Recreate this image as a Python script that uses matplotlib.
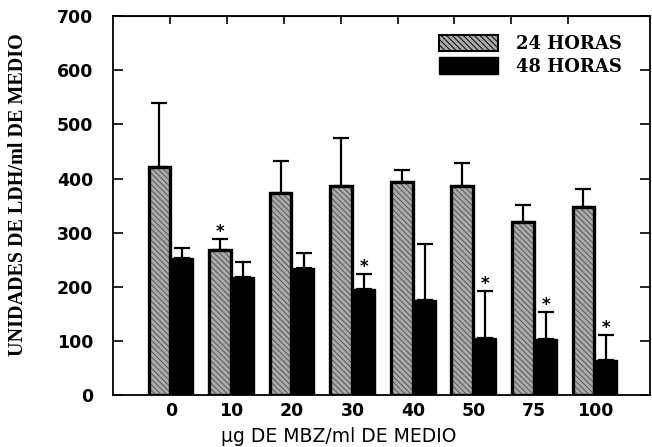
import numpy as np
import matplotlib.pyplot as plt
from matplotlib.patches import Patch

dosis = ['0', '10', '20', '30', '40', '50', '75', '100']
ldh_24 = [422, 268, 374, 387, 394, 387, 320, 348]
err_24 = [117, 21, 59, 87, 21, 41, 32, 33]
ldh_48 = [254, 219, 235, 196, 176, 106, 104, 65]
err_48 = [18, 27, 28, 28, 104, 87, 50, 46]
sig_24 = [False, True, False, False, False, False, False, False]
sig_48 = [False, False, False, True, False, True, True, True]

plt.rcParams['hatch.linewidth'] = 0.7

x = np.arange(len(dosis))
w = 0.36
off = 0.19

fig = plt.figure(figsize=(6.52, 4.47), dpi=100)
ax = fig.add_axes([0.173, 0.116, 0.824, 0.848])

# barras de 24 h: gris con trama fina y borde grueso
ax.bar(x - off, ldh_24, w, color='#ababab', hatch='\\\\\\\\\\\\', edgecolor='#555555', linewidth=0, zorder=2)
ax.bar(x - off, ldh_24, w, fill=False, edgecolor='black', linewidth=2.4, zorder=3)
ax.bar(x + off, ldh_48, w, color='black', edgecolor='black', linewidth=1, zorder=2)

ax.errorbar(x - off, ldh_24, yerr=[np.zeros(len(x)), err_24], fmt='none', ecolor='black',
            elinewidth=1.6, capsize=5.5, capthick=1.6, zorder=4)
ax.errorbar(x + off, ldh_48, yerr=[np.zeros(len(x)), err_48], fmt='none', ecolor='black',
            elinewidth=1.6, capsize=5.5, capthick=1.6, zorder=4)

for i in range(len(x)):
    if sig_24[i]:
        ax.text(x[i] - off, ldh_24[i] + err_24[i] - 4, '*', ha='center', va='bottom',
                fontsize=12, fontweight='heavy')
    if sig_48[i]:
        ax.text(x[i] + off, ldh_48[i] + err_48[i] - 4, '*', ha='center', va='bottom',
                fontsize=12, fontweight='heavy')

ax.set_xlim(-0.96, 7.91)
ax.set_ylim(0, 700)
ax.set_yticks(np.arange(0, 701, 100))
ax.set_xticks(x)
ax.set_xticklabels(dosis)
ax.tick_params(axis='y', direction='in', length=7, width=1.2, right=True,
               labelsize=12.5, pad=14)
ax.tick_params(axis='x', length=0, labelsize=12.5, pad=5)
for lab in ax.get_xticklabels() + ax.get_yticklabels():
    lab.set_fontweight('heavy')
for s in ax.spines.values():
    s.set_linewidth(1.3)

# marcas superiores
top = ax.secondary_xaxis('top')
top.set_xticks(np.arange(8) * 0.106 * 8.87 - 0.96 + 0.106 * 8.87)
top.set_xticklabels([])
top.tick_params(direction='in', length=6, width=1.2)

ax.set_xlabel('µg DE MBZ/ml DE MEDIO', fontsize=13.5, family='DejaVu Sans')
ax.xaxis.set_label_coords(0.42, -0.085)
ax.set_ylabel('UNIDADES DE LDH/ml DE MEDIO', fontsize=14.5, family='Liberation Serif',
              fontweight='bold')
ax.yaxis.set_label_coords(-0.158, 0.53)

handles = [Patch(facecolor='#ababab', hatch='\\\\\\\\\\\\', edgecolor='black', linewidth=1.5),
           Patch(facecolor='black', edgecolor='black')]
ax.legend(handles, ['24 HORAS', '48 HORAS'], loc='upper left', bbox_to_anchor=(0.59, 0.975),
          frameon=False, borderpad=0, handlelength=3.3, handleheight=1.0, labelspacing=0.25,
          handletextpad=1.0, prop={'family': 'DejaVu Serif', 'weight': 'bold', 'size': 13})

fig.savefig('out.png', dpi=100)
